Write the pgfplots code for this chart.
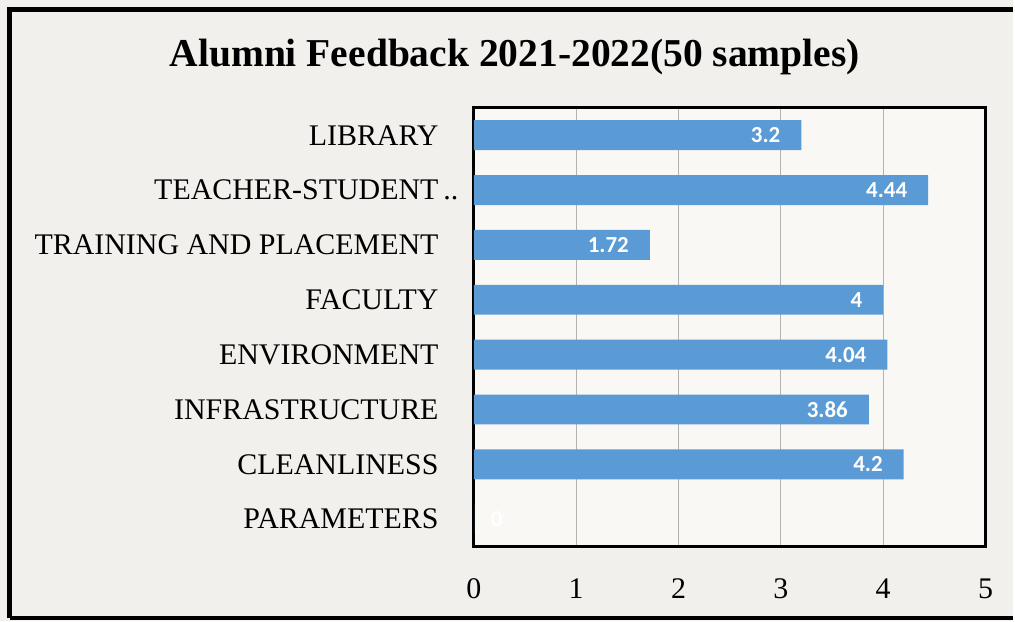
\documentclass[border=0pt]{standalone}
\usepackage{pgfplots}
\pgfplotsset{compat=1.18}
\usepackage{fontspec}
\setmainfont{Liberation Serif}
\newfontfamily\calibri{Carlito}
\definecolor{barblue}{RGB}{91,155,213}
\definecolor{bg}{RGB}{241,240,236}
\definecolor{plotbg}{RGB}{249,248,245}
\begin{document}
\begin{tikzpicture}[x=1pt,y=1pt]
\fill[bg] (0,0) rectangle (507.5,311.5);
\draw[line width=2.5pt] (5,1.5) -- (5,306.5) -- (507.5,306.5);
\draw[line width=2pt] (5,1.5) -- (507.5,1.5);
\node[font=\bfseries\fontsize{19.8}{22}\selectfont] at (258,283) {Alumni Feedback 2021-2022(50 samples)};
\begin{axis}[
  at={(237.5pt,37.5pt)}, anchor=south west,
  width=256.5pt, height=220pt, scale only axis,
  xmin=0, xmax=5, ymin=-0.5, ymax=7.5, y dir=reverse,
  xbar, bar width=15pt, bar shift=0pt,
  ytick={0,...,7},
  yticklabels={LIBRARY,TEACHER-STUDENT\rlap{\,..}\hspace{-4.5pt},TRAINING AND PLACEMENT,FACULTY,ENVIRONMENT,INFRASTRUCTURE,CLEANLINESS,PARAMETERS},
  xtick={0,...,5},
  xmajorgrids, ymajorgrids=false,
  grid style={gray!60, line width=0.6pt},
  major tick length=0,
  axis line style={line width=1.5pt},
  axis background/.style={fill=plotbg},
  /pgf/number format/assume math mode=true,
  tick label style={font=\fontsize{15}{17}\selectfont},
  yticklabel style={inner sep=0pt, xshift=-17.5pt},
  xticklabel style={anchor=center, inner sep=0pt, yshift=-21pt},
  point meta=x,
]
\addplot[fill=barblue, draw=none,
  nodes near coords={\pgfmathprintnumber{\pgfplotspointmeta}},
  nodes near coords style={font=\calibri\bfseries\fontsize{11.5}{13}\selectfont, text=white, anchor=east, xshift=-7pt}]
  coordinates {(3.2,0) (4.44,1) (1.72,2) (4,3) (4.04,4) (3.86,5) (4.2,6)};
\addplot[fill=barblue, draw=none,
  nodes near coords={\pgfmathprintnumber{\pgfplotspointmeta}},
  nodes near coords style={font=\calibri\bfseries\fontsize{11.5}{13}\selectfont, text=white, anchor=west, xshift=5pt}]
  coordinates {(0,7)};
\end{axis}
\end{tikzpicture}
\end{document}
